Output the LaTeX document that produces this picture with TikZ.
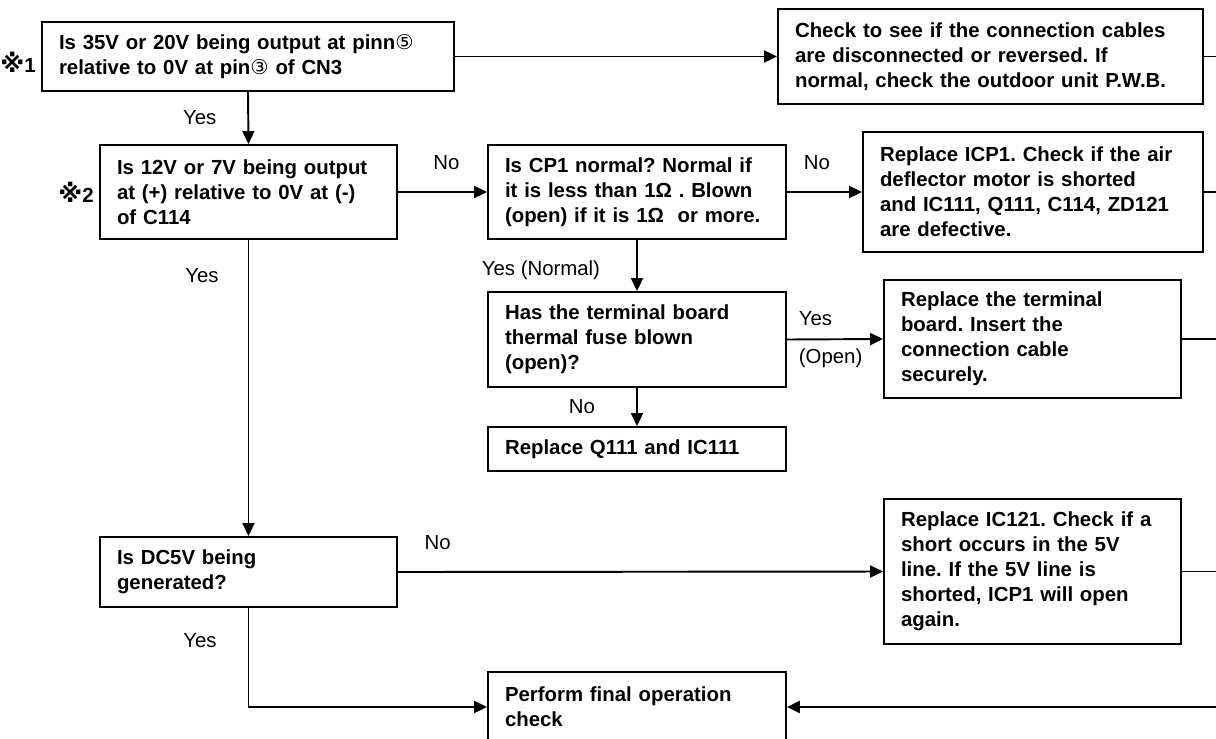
\documentclass[tikz,border=0pt]{standalone}
\usepackage{fontspec}
\setmainfont{Liberation Sans}
\newfontfamily\circfont{DejaVu Sans}
\newcommand{\cnum}[1]{{\circfont\mdseries #1}}
\newcommand{\refmark}{{\circfont\bfseries\fontsize{14}{14}\selectfont ※}}
\frenchspacing
\usetikzlibrary{arrows.meta}

\begin{document}
\begin{tikzpicture}[
    x=0.02cm, y=-0.02cm,
    font=\fontsize{11.6}{14.2}\selectfont,
    box/.style={draw, line width=1.1pt, font=\fontsize{11.6}{14.2}\selectfont\bfseries,
                align=left, inner xsep=0.34cm, inner ysep=0pt, text width=#1},
    lbl/.style={inner sep=0pt},
    note/.style={inner sep=0pt, anchor=east, font=\fontsize{11.6}{14.2}\selectfont\bfseries},
    link/.style={line width=1.1pt},
    arr/.style={line width=1.1pt, -{Triangle[length=0.26cm, width=0.24cm]}},
  ]
    \useasboundingbox (0,0) rectangle (1216,738);
    \clip (0,0) rectangle (1216,738);

    % checks and remedies
    \node[box=7.56cm, minimum height=1.38cm] (q1)   at (248,56.5)  {Is 35V or 20V being output at pinn\cnum{⑤}\\relative to 0V at pin\cnum{③} of CN3};
    \node[box=7.82cm, minimum height=1.90cm] (chk)  at (990.5,56.5){Check to see if the connection cables\\are disconnected or reversed. If\\normal, check the outdoor unit P.W.B.};
    \node[box=5.26cm, minimum height=1.88cm] (q2)   at (248.5,192) {Is 12V or 7V being output\\at (+) relative to 0V at (-)\\of C114};
    \node[box=5.28cm, minimum height=1.88cm] (cp)   at (637,192)   {Is CP1 normal? Normal if\\it is less than 1Ω . Blown\\(open) if it is 1Ω\ \ or more.};
    \node[box=6.12cm, minimum height=2.40cm] (icp)  at (1033,192)  {Replace ICP1. Check if the air\\deflector motor is shorted\\and IC111, Q111, C114, ZD121\\are defective.};
    \node[box=5.28cm, minimum height=1.90cm] (fuse) at (637,339.5) {Has the terminal board\\thermal fuse blown\\(open)?};
    \node[box=5.26cm, minimum height=2.36cm] (tb)   at (1032.5,339){Replace the terminal\\board. Insert the\\connection cable\\securely.};
    \node[box=5.28cm, minimum height=0.88cm] (qic)  at (637,449)   {Replace Q111 and IC111};
    \node[box=5.26cm, minimum height=1.40cm] (dc)   at (248.5,572) {Is DC5V being\\generated?};
    \node[box=5.26cm, minimum height=2.90cm] (ic)   at (1032.5,571.5){Replace IC121. Check if a\\short occurs in the 5V\\line. If the 5V line is\\shorted, ICP1 will open\\again.};
    \node[box=5.28cm, minimum height=1.40cm] (fin)  at (637,707)   {Perform final operation\\check};

    % notes
    \node[note] (note1) at ([xshift=-0.1cm, yshift=-0.11cm]q1.west) {\refmark1};
    \node[note] (note2) at ([xshift=-0.1cm]q2.west) {\refmark2};

    % flow
    \draw[arr] (q1.east) -- (chk.west);
    \draw[arr] (q1.south) -- node[lbl, left=0.62cm] {Yes} (q2.north);
    \draw[arr] (q2.east) -- node[lbl, above=0.42cm, xshift=0.08cm] {No} (cp.west);
    \draw[arr] (cp.east) -- node[lbl, above=0.42cm, xshift=-0.15cm] {No} (icp.west);
    \draw[arr] (cp.south) -- node[lbl, left=0.72cm, yshift=-0.09cm] {Yes (Normal)} (fuse.north);
    \draw[arr] (fuse.east) -- node[lbl, pos=0, anchor=south west, xshift=0.22cm, yshift=0.25cm] {Yes}
                              node[lbl, pos=0, anchor=north west, xshift=0.22cm, yshift=-0.16cm] {(Open)} (tb.west);
    \draw[arr] (fuse.south) -- node[lbl, left=0.82cm] {No} (qic.north);
    \draw[arr] (q2.south) -- node[lbl, pos=0.12, left=0.58cm] {Yes} (dc.north);
    \draw[arr] (dc.east) -- node[lbl, pos=0.082, above=0.42cm] {No} (ic.west);
    \draw[arr] (dc.south) |- node[lbl, pos=0.165, left=0.62cm] {Yes} (fin.west);

    % return line on the right edge
    \coordinate (bus) at (1232,0);
    \foreach \b in {chk, icp, tb, ic}
      \draw[link] (\b.east) -- (\b.east -| bus);
    \draw[link] (chk.east -| bus) -- (bus |- fin.east);
    \draw[arr, line width=1.6pt] (bus |- fin.east) -- (fin.east);
  \end{tikzpicture}
\end{document}
